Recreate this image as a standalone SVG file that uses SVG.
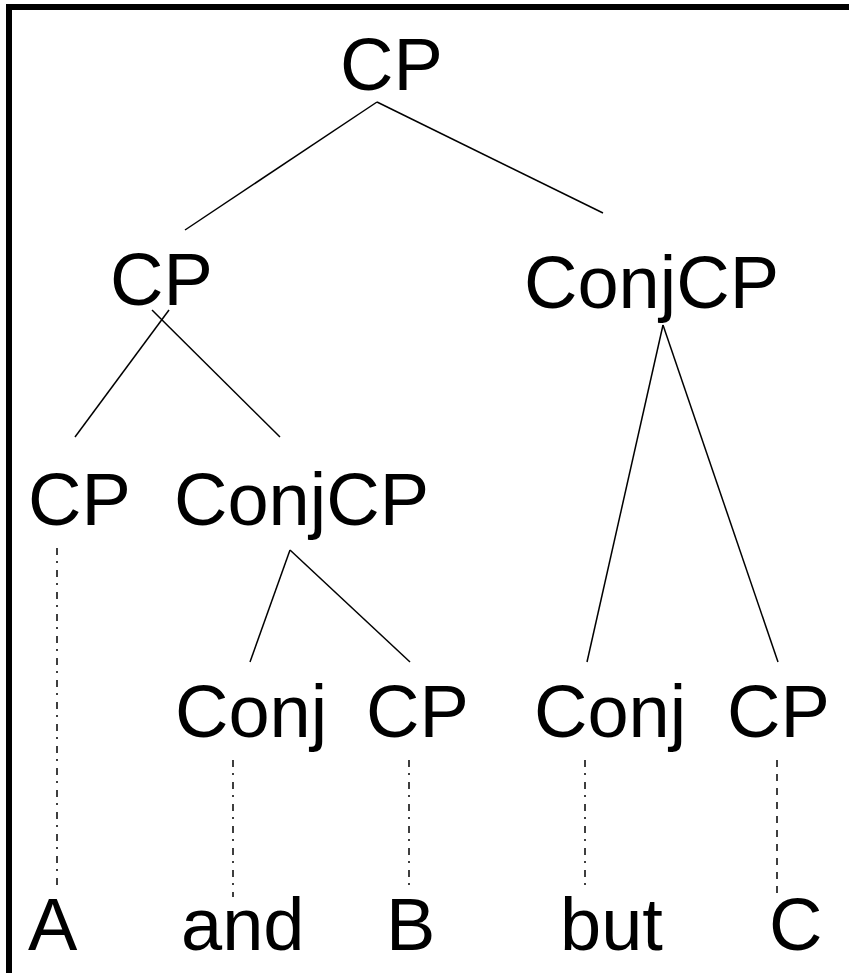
<svg xmlns="http://www.w3.org/2000/svg" width="849" height="973" viewBox="0 0 849 973">
<style>
text{font-family:"Liberation Sans",Arial,sans-serif;font-size:74px;fill:#000}
.e{stroke:#000;stroke-width:1.5;fill:none}
.dd{stroke:#000;stroke-width:1.5;fill:none;stroke-dasharray:7 6 2 7}
.d{stroke:#000;stroke-width:1.5;fill:none;stroke-dasharray:7 7}
</style>
<rect width="849" height="973" fill="#fff"/>
<g id="frame">
<line x1="6" y1="7" x2="849" y2="7" stroke="#000" stroke-width="6"/>
<line x1="9" y1="4" x2="9" y2="973" stroke="#000" stroke-width="6"/>
</g>
<g id="connectors">
<line class="e" x1="377" y1="102" x2="185" y2="230"/>
<line class="e" x1="377" y1="102" x2="603" y2="213"/>
<line class="e" x1="169" y1="310" x2="75" y2="437"/>
<line class="e" x1="152" y1="310" x2="280" y2="437"/>
<line class="e" x1="663" y1="325" x2="587" y2="662"/>
<line class="e" x1="663" y1="325" x2="778" y2="662"/>
<line class="e" x1="290" y1="550" x2="250" y2="662"/>
<line class="e" x1="290" y1="550" x2="410" y2="662"/>
<line class="dd" x1="57" y1="548" x2="57" y2="890"/>
<line class="dd" x1="233" y1="760" x2="233" y2="897"/>
<line class="dd" x1="409" y1="760" x2="409" y2="890"/>
<line class="dd" x1="585" y1="760" x2="585" y2="885"/>
<line class="d" x1="777" y1="760" x2="777" y2="900"/>
</g>
<g id="n-cp-root"><text x="340" y="90">CP</text></g>
<g id="n-cp-left"><text x="110" y="305">CP</text></g>
<g id="n-conjcp-right"><text x="524" y="308">ConjCP</text></g>
<g id="n-cp-a"><text x="28" y="525">CP</text></g>
<g id="n-conjcp-left"><text x="174" y="525">ConjCP</text></g>
<g id="n-conj-and"><text x="175" y="737">Conj</text></g>
<g id="n-cp-b"><text x="366" y="737">CP</text></g>
<g id="n-conj-but"><text x="534" y="737">Conj</text></g>
<g id="n-cp-c"><text x="727" y="737">CP</text></g>
<g id="w-a"><text x="28" y="950">A</text></g>
<g id="w-and"><text x="181" y="950">and</text></g>
<g id="w-b"><text x="386" y="950">B</text></g>
<g id="w-but"><text x="560" y="950">but</text></g>
<g id="w-c"><text x="769" y="950">C</text></g>
</svg>
